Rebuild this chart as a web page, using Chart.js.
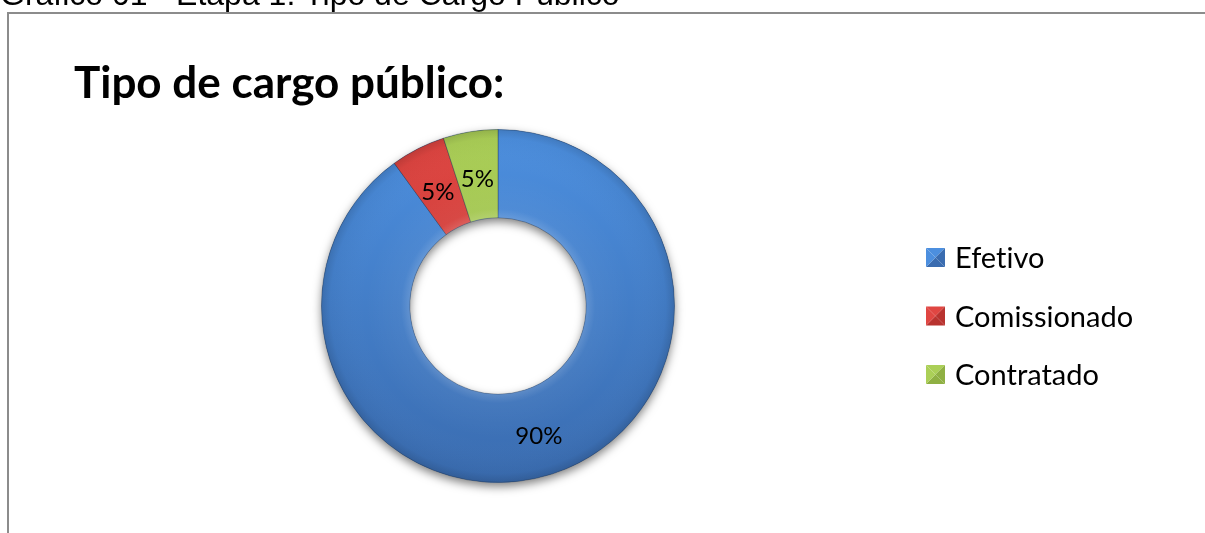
<!DOCTYPE html>
<html>
<head>
<meta charset="utf-8">
<title>Tipo de cargo público</title>
<script src="https://cdn.jsdelivr.net/npm/chart.js@4.4.1/dist/chart.umd.min.js"></script>
<style>
  html, body { margin: 0; padding: 0; background: #fff; overflow: hidden; }
  #frame {
    position: absolute; left: 7px; top: 12px; width: 1400px; height: 700px;
    border-left: 2px solid #8c8c8c; border-top: 2px solid #8c8c8c;
  }
  #c { position: absolute; left: 0; top: 0; }
</style>
</head>
<body>
<div id="frame"></div>
<canvas id="c" width="1205" height="533"></canvas>
<script>
// Survey figure: share of respondents by type of public post
const caption = 'Gráfico 01 - Etapa 1: Tipo de Cargo Público';
const chartTitle = 'Tipo de cargo público:';
const categories = ['Efetivo', 'Comissionado', 'Contratado'];
const shares = [90, 5, 5];

// [light, dark] tone for each slice
const tones = [
  ['#4c8fdf', '#3a6cb0'],
  ['#e04642', '#b8332f'],
  ['#abcf57', '#8fb043']
];

function sliceFill(ctx) {
  const chart = ctx.chart;
  const area = chart.chartArea;
  const t = tones[ctx.dataIndex];
  if (!area) return t[0];
  const g = chart.ctx.createLinearGradient(0, area.top, 0, area.bottom);
  g.addColorStop(0, t[0]);
  g.addColorStop(1, t[1]);
  return g;
}

function plainText(ctx) {
  // keep letter pairs such as "ti" as separate glyphs
  if ('textRendering' in ctx) ctx.textRendering = 'optimizeSpeed';
}

function ringGeometry(chart) {
  const arc = chart.getDatasetMeta(0).data[0];
  if (!arc) return null;
  return arc.getProps(['x', 'y', 'innerRadius', 'outerRadius'], true);
}

// soft drop shadow under the ring (also darkens the top rim of the hole)
const ringShadow = {
  id: 'ringShadow',
  beforeDatasetsDraw(chart) {
    const g = ringGeometry(chart);
    if (!g) return;
    const ctx = chart.ctx;
    ctx.save();
    ctx.shadowColor = 'rgba(0,0,0,0.5)';
    ctx.shadowBlur = 10;
    ctx.shadowOffsetY = 4;
    ctx.beginPath();
    ctx.arc(g.x, g.y, g.outerRadius, 0, Math.PI * 2);
    ctx.arc(g.x, g.y, g.innerRadius, 0, Math.PI * 2, true);
    ctx.fillStyle = '#3a6bae';
    ctx.fill('evenodd');
    ctx.restore();
  }
};

// rounded-edge shading across the width of the ring
const ringBevel = {
  id: 'ringBevel',
  afterDatasetsDraw(chart) {
    const g = ringGeometry(chart);
    if (!g) return;
    const ctx = chart.ctx;
    ctx.save();
    ctx.beginPath();
    ctx.arc(g.x, g.y, g.outerRadius, 0, Math.PI * 2);
    ctx.arc(g.x, g.y, g.innerRadius, 0, Math.PI * 2, true);
    ctx.clip('evenodd');
    const rg = ctx.createRadialGradient(g.x, g.y, g.innerRadius, g.x, g.y, g.outerRadius);
    rg.addColorStop(0, 'rgba(255,255,255,0.16)');
    rg.addColorStop(0.1, 'rgba(255,255,255,0.04)');
    rg.addColorStop(0.5, 'rgba(255,255,255,0)');
    rg.addColorStop(0.9, 'rgba(0,0,0,0.03)');
    rg.addColorStop(1, 'rgba(0,0,0,0.14)');
    ctx.fillStyle = rg;
    ctx.fillRect(g.x - g.outerRadius, g.y - g.outerRadius, g.outerRadius * 2, g.outerRadius * 2);
    ctx.restore();
  }
};

// percentage text at the middle of each slice
const sliceLabels = {
  id: 'sliceLabels',
  afterDatasetsDraw(chart) {
    const ctx = chart.ctx;
    const data = chart.data.datasets[0].data;
    const total = data.reduce((a, b) => a + b, 0);
    ctx.save();
    plainText(ctx);
    ctx.font = '24px Lato';
    ctx.fillStyle = '#000';
    ctx.textAlign = 'center';
    ctx.textBaseline = 'alphabetic';
    chart.getDatasetMeta(0).data.forEach((arc, i) => {
      const p = arc.tooltipPosition();
      const txt = Math.round(data[i] / total * 100) + '%';
      ctx.fillText(txt, p.x, p.y + 12);
    });
    ctx.restore();
  }
};

// caption, heading and a legend with bevelled swatches
const decorations = {
  id: 'decorations',
  afterDraw(chart) {
    const ctx = chart.ctx;
    ctx.save();
    plainText(ctx);
    ctx.fillStyle = '#000';
    ctx.textAlign = 'left';
    ctx.textBaseline = 'alphabetic';

    ctx.font = '32px "Liberation Sans"';
    ctx.fillText(caption, 0, 5);

    ctx.font = 'bold 44px Lato';
    ctx.fillText(chartTitle, 74, 98);

    const boxX = 926, size = 19, firstRow = 257.5, rowGap = 58.5;
    ctx.font = '29px Lato';
    chart.data.labels.forEach((label, i) => {
      const cy = firstRow + i * rowGap;
      const x0 = boxX, y0 = cy - size / 2, x1 = boxX + size, y1 = cy + size / 2;
      const mx = boxX + size / 2;
      const [light, dark] = tones[i];
      const tri = (pts, col) => {
        ctx.beginPath();
        ctx.moveTo(pts[0][0], pts[0][1]);
        ctx.lineTo(pts[1][0], pts[1][1]);
        ctx.lineTo(pts[2][0], pts[2][1]);
        ctx.closePath();
        ctx.fillStyle = col;
        ctx.fill();
      };
      tri([[x0, y0], [x1, y0], [mx, cy]], light);
      tri([[x1, y0], [x1, y1], [mx, cy]], dark);
      tri([[x0, y1], [x1, y1], [mx, cy]], dark);
      tri([[x0, y0], [x0, y1], [mx, cy]], light);
      ctx.fillStyle = '#000';
      ctx.fillText(label, 955, cy + 10.5);
    });
    ctx.restore();
  }
};

new Chart(document.getElementById('c'), {
  type: 'doughnut',
  data: {
    labels: categories,
    datasets: [{
      data: shares,
      backgroundColor: sliceFill,
      borderColor: 'rgba(30,45,70,0.35)',
      borderWidth: 1
    }]
  },
  options: {
    responsive: false,
    animation: false,
    cutout: '50%',
    layout: { padding: { left: 321, right: 530, top: 129, bottom: 50 } },
    plugins: {
      legend: { display: false },
      title: { display: false },
      tooltip: { enabled: false }
    }
  },
  plugins: [ringShadow, ringBevel, sliceLabels, decorations]
});
</script>
</body>
</html>
